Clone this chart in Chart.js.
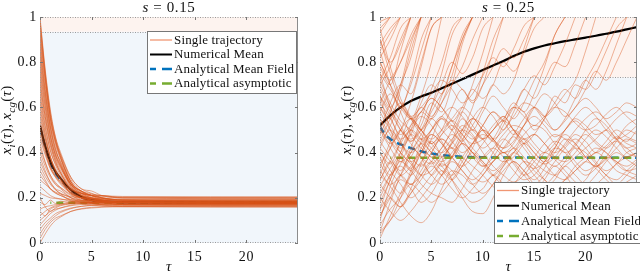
<!DOCTYPE html>
<html>
<head>
<meta charset="utf-8">
<script src="https://cdn.jsdelivr.net/npm/chart.js@4.4.0/dist/chart.umd.min.js"></script>
<style>
    html, body { margin: 0; padding: 0; background: #fff; }
    #wrap { position: relative; width: 640px; height: 272px; overflow: hidden; }
    .panel { position: absolute; top: 0; width: 320px; height: 272px; }
</style>
</head>
<body>
<div id="wrap">
    <div class="panel" style="left:0"><canvas id="leftPanel"></canvas></div>
    <div class="panel" style="left:320px"><canvas id="rightPanel"></canvas></div>
</div>
<script>
// Two-panel trajectory plot (s = 0.15 and s = 0.25).

const X_TICKS = [0, 5, 10, 15, 20];
const Y_TICKS = [0, 0.2, 0.4, 0.6, 0.8, 1];

// ---- left panel, s = 0.15 ----
const TAU_L = [0, 0.5, 1, 1.5, 2, 3, 4, 5, 6, 8, 25];
const LEFT_TRAJ = [
    [1.00, 0.77, 0.59, 0.47, 0.40, 0.29, 0.24, 0.22, 0.20, 0.19, 0.19],
    [0.99, 0.76, 0.58, 0.465, 0.39, 0.28, 0.23, 0.21, 0.20, 0.19, 0.185],
    [0.98, 0.75, 0.57, 0.46, 0.38, 0.27, 0.22, 0.20, 0.19, 0.18, 0.175],
    [0.96, 0.74, 0.56, 0.45, 0.38, 0.27, 0.23, 0.21, 0.19, 0.18, 0.18],
    [0.94, 0.73, 0.555, 0.445, 0.375, 0.27, 0.225, 0.205, 0.195, 0.185, 0.18],
    [0.92, 0.72, 0.55, 0.45, 0.39, 0.29, 0.24, 0.23, 0.21, 0.20, 0.20],
    [0.90, 0.70, 0.535, 0.435, 0.37, 0.27, 0.228, 0.21, 0.198, 0.189, 0.185],
    [0.88, 0.68, 0.52, 0.42, 0.35, 0.26, 0.21, 0.19, 0.18, 0.17, 0.17],
    [0.86, 0.67, 0.515, 0.415, 0.355, 0.26, 0.22, 0.20, 0.19, 0.18, 0.178],
    [0.84, 0.66, 0.51, 0.41, 0.36, 0.26, 0.22, 0.21, 0.20, 0.19, 0.185],
    [0.82, 0.64, 0.495, 0.40, 0.345, 0.255, 0.215, 0.198, 0.188, 0.18, 0.176],
    [0.80, 0.63, 0.48, 0.39, 0.34, 0.25, 0.21, 0.20, 0.19, 0.18, 0.175],
    [0.78, 0.61, 0.475, 0.385, 0.335, 0.25, 0.212, 0.197, 0.187, 0.18, 0.178],
    [0.76, 0.60, 0.47, 0.39, 0.34, 0.26, 0.23, 0.21, 0.205, 0.20, 0.195],
    [0.74, 0.58, 0.455, 0.37, 0.32, 0.245, 0.21, 0.195, 0.186, 0.18, 0.178],
    [0.72, 0.56, 0.44, 0.36, 0.31, 0.23, 0.20, 0.18, 0.175, 0.17, 0.165],
    [0.70, 0.56, 0.445, 0.375, 0.33, 0.26, 0.23, 0.218, 0.209, 0.203, 0.20],
    [0.68, 0.54, 0.43, 0.36, 0.31, 0.24, 0.21, 0.20, 0.19, 0.18, 0.18],
    [0.66, 0.52, 0.41, 0.345, 0.30, 0.235, 0.205, 0.192, 0.185, 0.18, 0.178],
    [0.64, 0.51, 0.41, 0.35, 0.31, 0.24, 0.22, 0.21, 0.20, 0.19, 0.19],
    [0.62, 0.49, 0.385, 0.32, 0.28, 0.215, 0.188, 0.176, 0.168, 0.162, 0.16],
    [0.60, 0.48, 0.38, 0.32, 0.28, 0.22, 0.20, 0.18, 0.18, 0.17, 0.17],
    [0.58, 0.465, 0.375, 0.32, 0.285, 0.228, 0.203, 0.19, 0.184, 0.18, 0.178],
    [0.56, 0.46, 0.38, 0.33, 0.29, 0.24, 0.22, 0.21, 0.21, 0.20, 0.20],
    [0.54, 0.44, 0.36, 0.31, 0.28, 0.225, 0.20, 0.188, 0.182, 0.178, 0.176],
    [0.52, 0.42, 0.34, 0.30, 0.27, 0.22, 0.20, 0.19, 0.18, 0.18, 0.175],
    [0.50, 0.41, 0.34, 0.295, 0.265, 0.222, 0.20, 0.19, 0.185, 0.182, 0.182],
    [0.48, 0.40, 0.33, 0.29, 0.26, 0.22, 0.20, 0.195, 0.19, 0.185, 0.185],
    [0.46, 0.39, 0.33, 0.294, 0.27, 0.236, 0.22, 0.214, 0.21, 0.206, 0.205],
    [0.44, 0.36, 0.30, 0.26, 0.24, 0.20, 0.18, 0.175, 0.17, 0.165, 0.165],
    [0.42, 0.355, 0.30, 0.268, 0.245, 0.21, 0.195, 0.188, 0.184, 0.181, 0.18],
    [0.40, 0.34, 0.29, 0.26, 0.245, 0.215, 0.20, 0.197, 0.194, 0.19, 0.19],
    [0.38, 0.32, 0.268, 0.237, 0.217, 0.186, 0.173, 0.168, 0.164, 0.161, 0.16],
    [0.36, 0.31, 0.27, 0.24, 0.23, 0.20, 0.19, 0.186, 0.183, 0.18, 0.18],
    [0.34, 0.295, 0.26, 0.235, 0.22, 0.20, 0.19, 0.185, 0.182, 0.18, 0.178],
    [0.32, 0.28, 0.24, 0.22, 0.21, 0.19, 0.18, 0.175, 0.173, 0.17, 0.17],
    [0.30, 0.27, 0.24, 0.222, 0.21, 0.193, 0.186, 0.182, 0.18, 0.178, 0.177],
    [0.28, 0.26, 0.24, 0.225, 0.217, 0.205, 0.20, 0.198, 0.196, 0.195, 0.195],
    [0.25, 0.23, 0.21, 0.20, 0.195, 0.184, 0.18, 0.177, 0.176, 0.175, 0.175],
    [0.22, 0.21, 0.20, 0.197, 0.194, 0.19, 0.187, 0.186, 0.185, 0.185, 0.185],
    [0.20, 0.16, 0.14, 0.155, 0.165, 0.173, 0.177, 0.178, 0.18, 0.18, 0.18],
    [0.18, 0.17, 0.19, 0.175, 0.185, 0.18, 0.183, 0.18, 0.181, 0.18, 0.18],
    [0.15, 0.16, 0.165, 0.17, 0.172, 0.176, 0.178, 0.179, 0.18, 0.18, 0.18],
    [0.14, 0.12, 0.15, 0.16, 0.168, 0.175, 0.178, 0.179, 0.18, 0.181, 0.182],
    [0.12, 0.14, 0.155, 0.165, 0.172, 0.182, 0.186, 0.188, 0.189, 0.19, 0.19],
    [0.10, 0.12, 0.14, 0.15, 0.155, 0.165, 0.17, 0.172, 0.173, 0.175, 0.175],
    [0.08, 0.105, 0.13, 0.145, 0.155, 0.168, 0.174, 0.177, 0.179, 0.18, 0.18],
    [0.06, 0.09, 0.11, 0.13, 0.14, 0.155, 0.162, 0.166, 0.168, 0.17, 0.17],
    [0.04, 0.075, 0.10, 0.12, 0.135, 0.152, 0.162, 0.168, 0.171, 0.173, 0.173],
    [0.02, 0.06, 0.09, 0.11, 0.12, 0.14, 0.15, 0.155, 0.158, 0.16, 0.16],
    [0.00, 0.04, 0.075, 0.10, 0.115, 0.14, 0.152, 0.158, 0.161, 0.164, 0.165]
];
const LEFT_MEAN = [0.52, 0.43, 0.36, 0.315, 0.285, 0.235, 0.205, 0.19, 0.185, 0.18, 0.178];
const LEFT_MF = [0.51, 0.425, 0.355, 0.31, 0.28, 0.232, 0.203, 0.189, 0.183, 0.179, 0.178];
const LEFT_ASYM = 0.178;

// ---- right panel, s = 0.25 ----
const TAU_R = [0, 1, 2, 3, 4, 5, 6, 7, 8, 9, 10, 11, 12, 13, 14, 15, 16, 17, 18, 19, 20, 21, 22, 23, 24, 25];
const RIGHT_TRAJ = [
    // runs that end up fixed at 1
    [0.98, 1],
    [0.95, 1],
    [0.93, 1],
    [0.90, 0.80, 0.88, 1],
    [0.88, 0.95, 1],
    [0.85, 0.93, 1],
    [0.82, 0.90, 1],
    [0.80, 0.72, 0.80, 0.90, 1],
    [0.80, 0.70, 0.62, 0.56, 0.60, 0.66, 0.72, 0.68, 0.62, 0.66, 0.74, 0.82, 0.78, 0.86, 0.96, 1],
    [0.78, 0.70, 0.85, 1],
    [0.75, 0.60, 0.52, 0.45, 0.50, 0.60, 0.70, 0.80, 0.75, 0.82, 0.95, 1],
    [0.72, 0.82, 0.95, 1],
    [0.70, 0.78, 0.90, 1],
    [0.68, 0.60, 0.70, 0.88, 1],
    [0.65, 0.50, 0.42, 0.48, 0.58, 0.55, 0.62, 0.74, 0.90, 1],
    [0.65, 0.58, 0.50, 0.46, 0.50, 0.55, 0.50, 0.45, 0.40, 0.44, 0.50, 0.46, 0.42, 0.48, 0.55, 0.60, 0.56, 0.60, 0.66, 0.72, 0.85, 1],
    [0.62, 0.72, 0.80, 0.92, 1],
    [0.62, 0.55, 0.48, 0.52, 0.58, 0.64, 0.60, 0.54, 0.60, 0.68, 0.64, 0.70, 0.80, 0.76, 0.84, 0.95, 1],
    [0.60, 0.55, 0.68, 0.85, 1],
    [0.58, 0.66, 0.60, 0.72, 0.90, 1],
    [0.55, 0.45, 0.38, 0.32, 0.40, 0.48, 0.44, 0.38, 0.45, 0.55, 0.60, 0.56, 0.50, 0.58, 0.68, 0.64, 0.72, 0.80, 0.78, 0.88, 1],
    [0.52, 0.44, 0.50, 0.62, 0.78, 0.95, 1],
    [0.50, 0.62, 0.70, 0.66, 0.80, 0.95, 1],
    [0.50, 0.42, 0.36, 0.40, 0.46, 0.42, 0.38, 0.44, 0.52, 0.48, 0.42, 0.46, 0.54, 0.62, 0.58, 0.66, 0.78, 0.92, 1],
    [0.48, 0.58, 0.70, 0.82, 1],
    [0.45, 0.55, 0.62, 0.56, 0.50, 0.58, 0.66, 0.72, 0.68, 0.63, 0.70, 0.78, 0.86, 0.82, 0.90, 1],
    [0.44, 0.50, 0.44, 0.38, 0.34, 0.40, 0.48, 0.54, 0.50, 0.46, 0.52, 0.58, 0.54, 0.48, 0.52, 0.60, 0.66, 0.62, 0.56, 0.60, 0.68, 0.76, 0.72, 0.80, 0.90, 1],
    [0.42, 0.52, 0.60, 0.55, 0.65, 0.80, 1],
    [0.40, 0.35, 0.45, 0.55, 0.50, 0.44, 0.50, 0.60, 0.68, 0.62, 0.70, 0.85, 1],
    [0.38, 0.30, 0.38, 0.50, 0.62, 0.70, 0.66, 0.78, 0.92, 1],
    [0.35, 0.28, 0.22, 0.30, 0.40, 0.36, 0.30, 0.38, 0.48, 0.55, 0.50, 0.45, 0.52, 0.60, 0.58, 0.50, 0.55, 0.65, 0.62, 0.70, 0.68, 0.75, 0.85, 0.95, 1],
    [0.33, 0.45, 0.58, 0.70, 0.85, 1],
    [0.32, 0.26, 0.30, 0.38, 0.44, 0.40, 0.34, 0.30, 0.36, 0.44, 0.52, 0.58, 0.54, 0.60, 0.68, 0.74, 0.70, 0.78, 0.88, 1],
    [0.30, 0.42, 0.50, 0.45, 0.52, 0.62, 0.58, 0.70, 0.88, 1],
    [0.28, 0.36, 0.32, 0.42, 0.55, 0.68, 0.80, 0.95, 1],
    [0.26, 0.20, 0.16, 0.22, 0.30, 0.36, 0.32, 0.28, 0.34, 0.42, 0.50, 0.46, 0.40, 0.44, 0.52, 0.60, 0.56, 0.50, 0.55, 0.64, 0.72, 0.68, 0.76, 0.88, 1],
    [0.25, 0.33, 0.40, 0.48, 0.44, 0.38, 0.42, 0.50, 0.58, 0.52, 0.46, 0.50, 0.56, 0.50, 0.44, 0.48, 0.55, 0.62, 0.68, 0.64, 0.72, 0.80, 0.90, 1],
    [0.20, 0.30, 0.38, 0.33, 0.40, 0.50, 0.56, 0.50, 0.45, 0.52, 0.60, 0.70, 0.66, 0.72, 0.86, 1],
    [0.18, 0.28, 0.40, 0.52, 0.60, 0.56, 0.65, 0.78, 0.90, 1],
    [0.15, 0.22, 0.30, 0.26, 0.32, 0.40, 0.46, 0.42, 0.50, 0.60, 0.75, 0.90, 1],
    [0.12, 0.20, 0.16, 0.24, 0.35, 0.46, 0.55, 0.50, 0.58, 0.70, 0.84, 1],
    [0.10, 0.25, 0.35, 0.42, 0.38, 0.30, 0.36, 0.45, 0.55, 0.50, 0.58, 0.65, 0.60, 0.55, 0.62, 0.72, 0.80, 0.92, 1],
    [0.05, 0.18, 0.30, 0.40, 0.48, 0.55, 0.62, 0.70, 0.78, 0.90, 1],
    [0.04, 0.10, 0.20, 0.32, 0.45, 0.60, 0.75, 0.92, 1],
    // runs still wandering at the end
    [0.95, 0.78, 0.64, 0.55, 0.48, 0.44, 0.48, 0.52, 0.48, 0.42, 0.38, 0.42, 0.48, 0.52, 0.50, 0.44, 0.40, 0.44, 0.50, 0.54, 0.50, 0.45, 0.42, 0.46, 0.52, 0.55],
    [0.90, 0.75, 0.62, 0.55, 0.50, 0.46, 0.50, 0.55, 0.60, 0.56, 0.50, 0.46, 0.50, 0.56, 0.62, 0.60, 0.54, 0.50, 0.54, 0.60, 0.64, 0.60, 0.55, 0.58, 0.62, 0.60],
    [0.85, 0.70, 0.58, 0.48, 0.42, 0.38, 0.34, 0.38, 0.44, 0.40, 0.35, 0.30, 0.34, 0.40, 0.46, 0.42, 0.37, 0.34, 0.38, 0.44, 0.48, 0.44, 0.40, 0.36, 0.34, 0.37],
    [0.75, 0.68, 0.60, 0.55, 0.58, 0.64, 0.60, 0.54, 0.48, 0.44, 0.46, 0.52, 0.56, 0.50, 0.46, 0.48, 0.44, 0.40, 0.43, 0.48, 0.45, 0.40, 0.43, 0.47, 0.44, 0.42],
    [0.72, 0.62, 0.54, 0.50, 0.46, 0.50, 0.56, 0.60, 0.56, 0.50, 0.46, 0.50, 0.55, 0.60, 0.56, 0.52, 0.56, 0.60, 0.58, 0.53, 0.50, 0.52, 0.57, 0.60, 0.56, 0.52],
    [0.70, 0.60, 0.50, 0.44, 0.38, 0.35, 0.40, 0.46, 0.50, 0.47, 0.40, 0.34, 0.30, 0.27, 0.30, 0.36, 0.40, 0.37, 0.32, 0.27, 0.24, 0.26, 0.30, 0.35, 0.38, 0.40],
    [0.65, 0.56, 0.45, 0.36, 0.30, 0.26, 0.30, 0.36, 0.32, 0.26, 0.22, 0.26, 0.34, 0.40, 0.36, 0.30, 0.26, 0.30, 0.36, 0.42, 0.40, 0.35, 0.30, 0.28, 0.32, 0.36],
    [0.60, 0.52, 0.46, 0.50, 0.56, 0.52, 0.45, 0.38, 0.34, 0.38, 0.44, 0.50, 0.54, 0.50, 0.44, 0.38, 0.35, 0.38, 0.44, 0.50, 0.55, 0.58, 0.54, 0.48, 0.45, 0.50],
    [0.58, 0.50, 0.44, 0.40, 0.44, 0.50, 0.55, 0.52, 0.46, 0.40, 0.36, 0.32, 0.36, 0.42, 0.38, 0.32, 0.28, 0.25, 0.28, 0.32, 0.36, 0.40, 0.37, 0.32, 0.30, 0.28],
    [0.55, 0.48, 0.40, 0.35, 0.30, 0.32, 0.38, 0.42, 0.38, 0.34, 0.30, 0.25, 0.22, 0.26, 0.32, 0.38, 0.44, 0.48, 0.46, 0.42, 0.38, 0.40, 0.45, 0.50, 0.47, 0.45],
    [0.50, 0.45, 0.40, 0.36, 0.40, 0.45, 0.38, 0.28, 0.20, 0.14, 0.13, 0.20, 0.30, 0.36, 0.32, 0.28, 0.33, 0.42, 0.48, 0.44, 0.38, 0.34, 0.38, 0.45, 0.50, 0.48],
    [0.45, 0.38, 0.30, 0.26, 0.30, 0.36, 0.42, 0.48, 0.44, 0.38, 0.34, 0.36, 0.42, 0.47, 0.42, 0.36, 0.32, 0.30, 0.34, 0.38, 0.42, 0.46, 0.50, 0.46, 0.42, 0.38],
    [0.42, 0.36, 0.30, 0.34, 0.42, 0.48, 0.44, 0.38, 0.32, 0.28, 0.32, 0.40, 0.46, 0.42, 0.36, 0.33, 0.36, 0.42, 0.50, 0.55, 0.52, 0.48, 0.50, 0.55, 0.58, 0.56],
    [0.40, 0.32, 0.26, 0.20, 0.24, 0.30, 0.35, 0.32, 0.26, 0.22, 0.24, 0.30, 0.26, 0.20, 0.18, 0.22, 0.28, 0.34, 0.30, 0.25, 0.28, 0.34, 0.30, 0.26, 0.30, 0.35],
    [0.35, 0.42, 0.50, 0.55, 0.50, 0.44, 0.40, 0.44, 0.50, 0.55, 0.52, 0.46, 0.42, 0.45, 0.52, 0.56, 0.52, 0.47, 0.50, 0.56, 0.60, 0.56, 0.50, 0.46, 0.48, 0.52],
    [0.30, 0.25, 0.18, 0.12, 0.09, 0.14, 0.24, 0.32, 0.30, 0.26, 0.30, 0.36, 0.40, 0.35, 0.30, 0.33, 0.40, 0.45, 0.42, 0.36, 0.32, 0.35, 0.42, 0.45, 0.40, 0.38],
    [0.28, 0.36, 0.44, 0.50, 0.46, 0.40, 0.36, 0.40, 0.46, 0.50, 0.46, 0.40, 0.36, 0.38, 0.44, 0.48, 0.44, 0.38, 0.36, 0.40, 0.46, 0.50, 0.47, 0.42, 0.38, 0.40],
    [0.22, 0.30, 0.34, 0.30, 0.36, 0.42, 0.46, 0.42, 0.36, 0.30, 0.27, 0.30, 0.35, 0.40, 0.44, 0.40, 0.35, 0.30, 0.28, 0.32, 0.36, 0.33, 0.28, 0.25, 0.27, 0.30],
    [0.20, 0.14, 0.10, 0.14, 0.20, 0.26, 0.32, 0.28, 0.22, 0.18, 0.20, 0.26, 0.32, 0.36, 0.32, 0.26, 0.24, 0.28, 0.34, 0.30, 0.26, 0.30, 0.36, 0.40, 0.37, 0.34],
    [0.15, 0.28, 0.36, 0.32, 0.26, 0.22, 0.20, 0.18, 0.24, 0.32, 0.38, 0.42, 0.38, 0.32, 0.28, 0.30, 0.36, 0.42, 0.40, 0.34, 0.30, 0.33, 0.38, 0.36, 0.32, 0.30],
    [0.12, 0.20, 0.28, 0.24, 0.18, 0.22, 0.30, 0.38, 0.44, 0.40, 0.34, 0.38, 0.45, 0.50, 0.46, 0.40, 0.36, 0.40, 0.46, 0.44, 0.38, 0.34, 0.37, 0.42, 0.46, 0.44],
    [0.08, 0.15, 0.20, 0.26, 0.22, 0.18, 0.22, 0.28, 0.34, 0.40, 0.36, 0.30, 0.26, 0.30, 0.36, 0.34, 0.28, 0.24, 0.28, 0.34, 0.38, 0.42, 0.40, 0.35, 0.32, 0.33],
    [0.05, 0.10, 0.16, 0.22, 0.28, 0.34, 0.30, 0.24, 0.20, 0.24, 0.30, 0.36, 0.40, 0.36, 0.30, 0.26, 0.30, 0.36, 0.42, 0.46, 0.42, 0.36, 0.32, 0.35, 0.40, 0.42],
    [0.02, 0.12, 0.22, 0.30, 0.35, 0.30, 0.26, 0.30, 0.38, 0.44, 0.48, 0.45, 0.40, 0.42, 0.48, 0.52, 0.50, 0.44, 0.40, 0.43, 0.50, 0.55, 0.52, 0.46, 0.42, 0.44]
];
const RIGHT_MEAN = [0.52, 0.565, 0.60, 0.628, 0.648, 0.665, 0.685, 0.705, 0.725, 0.745, 0.765, 0.785, 0.805, 0.827, 0.846, 0.861, 0.874, 0.884, 0.893, 0.901, 0.909, 0.917, 0.926, 0.935, 0.945, 0.955];
const TAU_MF_R = [0, 0.5, 1, 1.5, 2, 3, 4, 5, 6, 8, 10, 25];
const RIGHT_MF = [0.515, 0.48, 0.46, 0.447, 0.436, 0.42, 0.406, 0.396, 0.389, 0.382, 0.379, 0.377];
const RIGHT_ASYM = 0.377;

const TRAJ_COLOR = 'rgba(217, 83, 25, 0.62)';
const MEAN_COLOR = '#000000';
const MF_COLOR = '#0072bd';
const ASYM_COLOR = '#77ac30';
const SERIF = '"Liberation Serif", "DejaVu Serif", serif';

const toPoints = (xs, ys) => ys.map((y, i) => ({ x: xs[i], y }));

function buildDatasets(tau, trajs, meanTau, mean, mfTau, mf, asym, trajWidth) {
    const sets = trajs.map((t) => ({
        data: toPoints(tau, t), borderColor: TRAJ_COLOR, borderWidth: trajWidth,
        pointRadius: 0, cubicInterpolationMode: 'monotone'
    }));
    sets.push({ data: toPoints(meanTau, mean), borderColor: MEAN_COLOR, borderWidth: 2.2, pointRadius: 0, cubicInterpolationMode: 'monotone' });
    sets.push({ data: [{ x: 1, y: asym }, { x: 25, y: asym }], borderColor: ASYM_COLOR, borderWidth: 2.5, borderDash: [7, 5], borderDashOffset: 6, pointRadius: 0 });
    sets.push({ data: toPoints(mfTau, mf), borderColor: MF_COLOR, borderWidth: 2.5, borderDash: [7, 5], pointRadius: 0, cubicInterpolationMode: 'monotone' });
    return sets;
}

function drawSegments(ctx, segs, x, y, size) {
    const fontFor = (st) => st === 'sub' ? 'italic ' + Math.round(size * 0.7) + 'px ' + SERIF
        : (st === 'it' ? 'italic ' + size + 'px ' + SERIF : size + 'px ' + SERIF);
    let total = 0;
    segs.forEach(([t, st]) => { ctx.font = fontFor(st); total += ctx.measureText(t).width; });
    let cx = x - total / 2;
    ctx.textAlign = 'left';
    ctx.textBaseline = 'alphabetic';
    segs.forEach(([t, st]) => {
        ctx.font = fontFor(st);
        ctx.fillText(t, cx, st === 'sub' ? y + size * 0.25 : y);
        cx += ctx.measureText(t).width;
    });
}

const decorPlugin = {
    id: 'decor',
    beforeDraw(chart) {
        // tick labels: Computer Modern-like width
        chart.ctx.letterSpacing = '0.7px';
    },
    beforeDatasetsDraw(chart, args, opts) {
        const { ctx, chartArea: a, scales: { y } } = chart;
        const yt = y.getPixelForValue(opts.threshold);
        ctx.save();
        ctx.fillStyle = 'rgb(241, 246, 251)';
        ctx.fillRect(a.left, yt, a.right - a.left, a.bottom - yt);
        ctx.fillStyle = 'rgb(253, 243, 239)';
        ctx.fillRect(a.left, a.top, a.right - a.left, yt - a.top);
        ctx.restore();
    },
    afterDatasetsDraw(chart, args, opts) {
        const { ctx, chartArea: a, scales: { x, y } } = chart;
        const yt = Math.round(y.getPixelForValue(opts.threshold)) + 0.5;
        ctx.save();
        ctx.lineWidth = 1;
        ctx.strokeStyle = '#9a9a9a';
        ctx.setLineDash([1, 1.5]);
        ctx.beginPath();
        ctx.moveTo(a.left, yt); ctx.lineTo(a.right, yt);
        ctx.moveTo(a.left, a.top + 0.5); ctx.lineTo(a.right, a.top + 0.5);
        ctx.moveTo(a.left, a.bottom - 0.5); ctx.lineTo(a.right, a.bottom - 0.5);
        ctx.moveTo(a.left + 0.5, a.top); ctx.lineTo(a.left + 0.5, a.bottom);
        ctx.stroke();
        ctx.setLineDash([]);
        ctx.strokeStyle = '#8c8c8c';
        ctx.beginPath();
        ctx.moveTo(a.right - 0.5, a.top); ctx.lineTo(a.right - 0.5, a.bottom);
        ctx.stroke();
        // inward tick marks
        ctx.strokeStyle = '#777';
        ctx.beginPath();
        X_TICKS.forEach((v) => {
            const px = Math.round(x.getPixelForValue(v)) + 0.5;
            ctx.moveTo(px, a.bottom); ctx.lineTo(px, a.bottom - 3);
            ctx.moveTo(px, a.top); ctx.lineTo(px, a.top + 3);
        });
        Y_TICKS.forEach((v) => {
            const py = Math.round(y.getPixelForValue(v)) + 0.5;
            ctx.moveTo(a.left, py); ctx.lineTo(a.left + 3, py);
            ctx.moveTo(a.right, py); ctx.lineTo(a.right - 3, py);
        });
        ctx.stroke();

        // legend
        const L = opts.legend;
        ctx.fillStyle = '#ffffff';
        ctx.fillRect(L.x, L.y, L.w, L.h);
        ctx.strokeStyle = '#777';
        ctx.strokeRect(L.x + 0.5, L.y + 0.5, L.w - 1, L.h - 1);
        const rows = [
            { label: 'Single trajectory', color: 'rgba(240, 150, 115, 1)', width: 1.3, dashed: false },
            { label: 'Numerical Mean', color: MEAN_COLOR, width: 2, dashed: false },
            { label: 'Analytical Mean Field', color: MF_COLOR, width: 2.5, dashed: true },
            { label: 'Analytical asymptotic', color: ASYM_COLOR, width: 2.5, dashed: true }
        ];
        ctx.letterSpacing = '0.15px';
        rows.forEach((r, i) => {
            const ry = L.y + L.rowTop + i * L.rowGap;
            ctx.strokeStyle = r.color;
            ctx.lineWidth = r.width;
            ctx.beginPath();
            if (r.dashed) {
                ctx.moveTo(L.x + 3, ry); ctx.lineTo(L.x + 9, ry);
                ctx.moveTo(L.x + 15, ry); ctx.lineTo(L.x + 25, ry);
            } else {
                ctx.moveTo(L.x + 3, ry); ctx.lineTo(L.x + 25, ry);
            }
            ctx.stroke();
            ctx.fillStyle = '#111';
            ctx.font = '13px ' + SERIF;
            ctx.textAlign = 'left';
            ctx.textBaseline = 'middle';
            ctx.fillText(r.label, L.x + 27, ry + 0.5);
        });

        // titles
        ctx.fillStyle = '#111';
        const midX = (a.left + a.right) / 2;
        ctx.letterSpacing = '0.6px';
        drawSegments(ctx, [['s', 'it'], [' = ' + opts.sValue, 'rm']], midX, 12, 15);
        drawSegments(ctx, [['τ', 'it']], midX, a.bottom + 28, 15);
        ctx.letterSpacing = '0.3px';
        ctx.translate(opts.yLabelX, 120);
        ctx.rotate(-Math.PI / 2);
        drawSegments(ctx, [['x', 'it'], ['i', 'sub'], ['(', 'rm'], ['τ', 'it'], ['), ', 'rm'], ['x', 'it'], ['cg', 'sub'], ['(', 'rm'], ['τ', 'it'], [')', 'rm']], 0, 2, 15);
        ctx.restore();
    }
};

function makePanel(canvasId, datasets, p) {
    return new Chart(document.getElementById(canvasId), {
        type: 'line',
        data: { datasets },
        plugins: [decorPlugin],
        options: {
            responsive: true,
            maintainAspectRatio: false,
            animation: false,
            devicePixelRatio: 1,
            layout: { padding: { top: 17, right: p.padRight, bottom: 0, left: 0 } },
            plugins: {
                legend: { display: false },
                tooltip: { enabled: false },
                decor: p
            },
            scales: {
                x: {
                    type: 'linear', min: 0, max: 25,
                    grid: { display: false, drawTicks: false }, border: { display: false },
                    afterBuildTicks: (s) => { s.ticks = X_TICKS.map((v) => ({ value: v })); },
                    afterFit: (s) => { s.height = 29; },
                    ticks: { color: '#111', padding: 6, maxRotation: 0, font: { family: SERIF, size: 14 } }
                },
                y: {
                    type: 'linear', min: 0, max: 1,
                    grid: { display: false, drawTicks: false }, border: { display: false },
                    afterBuildTicks: (s) => { s.ticks = Y_TICKS.map((v) => ({ value: v })); },
                    afterFit: (s) => { s.width = p.yWidth; },
                    ticks: { color: '#111', padding: 3, font: { family: SERIF, size: 14 }, callback: (v) => String(+Number(v).toFixed(1)) }
                }
            }
        }
    });
}

makePanel('leftPanel', buildDatasets(TAU_L, LEFT_TRAJ, TAU_L, LEFT_MEAN, TAU_L, LEFT_MF, LEFT_ASYM, 0.8), {
    threshold: 0.935, sValue: '0.15', yLabelX: 9, padRight: 22, yWidth: 40,
    legend: { x: 147, y: 31, w: 150, h: 63, rowTop: 9, rowGap: 14.5 }
});
makePanel('rightPanel', buildDatasets(TAU_R, RIGHT_TRAJ, TAU_R, RIGHT_MEAN, TAU_MF_R, RIGHT_MF, RIGHT_ASYM, 0.7), {
    threshold: 0.733, sValue: '0.25', yLabelX: 29, padRight: 3, yWidth: 60,
    legend: { x: 174, y: 182, w: 150, h: 62, rowTop: 8.5, rowGap: 15.2 }
});
</script>
</body>
</html>
